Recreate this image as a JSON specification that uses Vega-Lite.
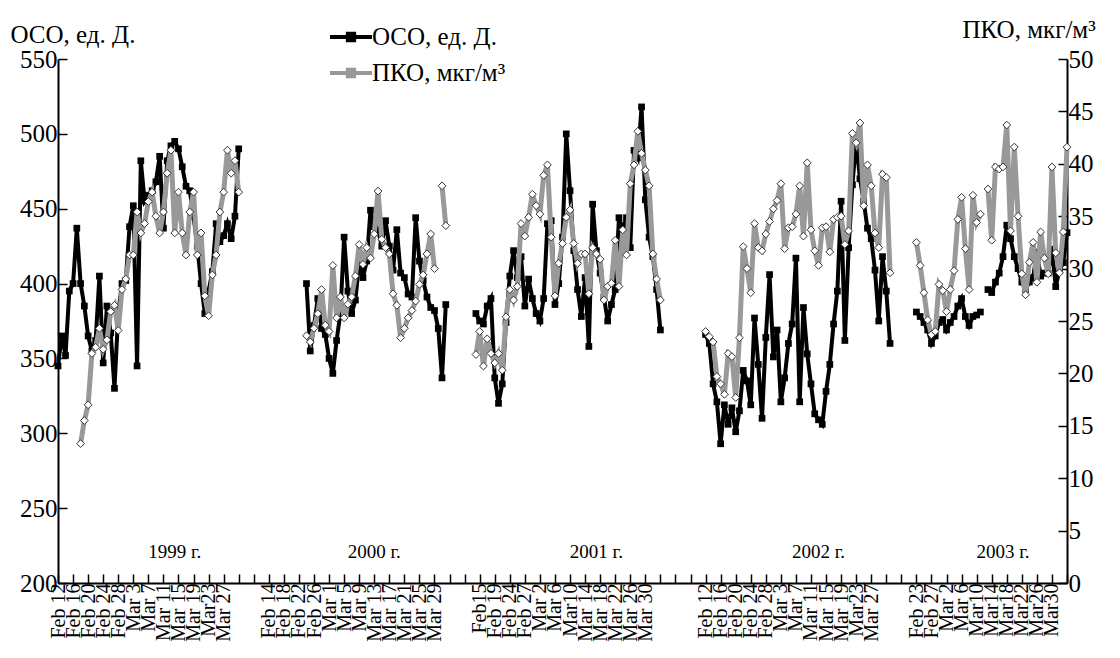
{
"$schema": "https://vega.github.io/schema/vega-lite/v6.json",
"width": 1009, "height": 524,
"autosize": {"type": "none"},
"padding": {"left": 58, "top": 59, "right": 53, "bottom": 75},
"background": "white",
"config": {
 "view": {"stroke": null},
 "font": "Liberation Serif",
 "axis": {"grid": false, "domainColor": "black", "domainWidth": 2, "tickColor": "black", "tickWidth": 1.5, "labelColor": "black", "titleColor": "black", "labelFont": "Liberation Serif", "titleFont": "Liberation Serif", "titleFontWeight": "normal"},
 "legend": {"orient": "none", "legendX": 270, "legendY": -45, "labelFont": "Liberation Serif", "labelFontSize": 25, "labelColor": "black", "symbolType": "M-1,0H1M-0.15,-0.15H0.15V0.15H-0.15Z", "symbolSize": 1764, "symbolStrokeWidth": 4, "rowPadding": -25, "labelOffset": -2, "title": null}
},
"data": {"values": [
{"yr":1999,"i":0,"o":345,"p":null},{"yr":1999,"i":1,"o":365,"p":null},{"yr":1999,"i":2,"o":352,"p":null},{"yr":1999,"i":3,"o":395,"p":null},{"yr":1999,"i":4,"o":400,"p":null},{"yr":1999,"i":5,"o":437,"p":null},{"yr":1999,"i":6,"o":400,"p":13.3},{"yr":1999,"i":7,"o":385,"p":15.5},{"yr":1999,"i":8,"o":365,"p":17.0},{"yr":1999,"i":9,"o":355,"p":21.9},{"yr":1999,"i":10,"o":362,"p":22.5},{"yr":1999,"i":11,"o":405,"p":24.3},{"yr":1999,"i":12,"o":347,"p":22.3},{"yr":1999,"i":13,"o":385,"p":23.2},{"yr":1999,"i":14,"o":367,"p":25.9},{"yr":1999,"i":15,"o":330,"p":26.5},{"yr":1999,"i":16,"o":380,"p":24.1},{"yr":1999,"i":17,"o":400,"p":28.0},{"yr":1999,"i":18,"o":402,"p":29.0},{"yr":1999,"i":19,"o":438,"p":31.3},{"yr":1999,"i":20,"o":452,"p":31.3},{"yr":1999,"i":21,"o":345,"p":35.4},{"yr":1999,"i":22,"o":482,"p":33.4},{"yr":1999,"i":23,"o":455,"p":34.3},{"yr":1999,"i":24,"o":459,"p":36.4},{"yr":1999,"i":25,"o":462,"p":37.3},{"yr":1999,"i":26,"o":468,"p":35.0},{"yr":1999,"i":27,"o":485,"p":33.4},{"yr":1999,"i":28,"o":437,"p":35.4},{"yr":1999,"i":29,"o":482,"p":39.1},{"yr":1999,"i":30,"o":492,"p":41.3},{"yr":1999,"i":31,"o":495,"p":33.4},{"yr":1999,"i":32,"o":490,"p":37.3},{"yr":1999,"i":33,"o":478,"p":33.4},{"yr":1999,"i":34,"o":465,"p":31.3},{"yr":1999,"i":35,"o":462,"p":35.4},{"yr":1999,"i":36,"o":445,"p":37.3},{"yr":1999,"i":37,"o":425,"p":31.3},{"yr":1999,"i":38,"o":400,"p":33.4},{"yr":1999,"i":39,"o":380,"p":27.4},{"yr":1999,"i":40,"o":395,"p":25.5},{"yr":1999,"i":41,"o":408,"p":29.4},{"yr":1999,"i":42,"o":440,"p":31.3},{"yr":1999,"i":43,"o":428,"p":35.4},{"yr":1999,"i":44,"o":432,"p":37.3},{"yr":1999,"i":45,"o":440,"p":41.3},{"yr":1999,"i":46,"o":430,"p":39.1},{"yr":1999,"i":47,"o":445,"p":40.3},{"yr":1999,"i":48,"o":490,"p":37.3},
{"yr":2000,"i":66,"o":400,"p":23.6},{"yr":2000,"i":67,"o":355,"p":23.0},{"yr":2000,"i":68,"o":372,"p":24.3},{"yr":2000,"i":69,"o":390,"p":25.7},{"yr":2000,"i":70,"o":370,"p":28.0},{"yr":2000,"i":71,"o":366,"p":24.6},{"yr":2000,"i":72,"o":350,"p":24.0},{"yr":2000,"i":73,"o":340,"p":30.3},{"yr":2000,"i":74,"o":362,"p":25.3},{"yr":2000,"i":75,"o":380,"p":27.3},{"yr":2000,"i":76,"o":431,"p":25.3},{"yr":2000,"i":77,"o":395,"p":26.6},{"yr":2000,"i":78,"o":380,"p":27.3},{"yr":2000,"i":79,"o":389,"p":29.3},{"yr":2000,"i":80,"o":415,"p":32.3},{"yr":2000,"i":81,"o":404,"p":30.4},{"yr":2000,"i":82,"o":415,"p":32.0},{"yr":2000,"i":83,"o":449,"p":31.0},{"yr":2000,"i":84,"o":438,"p":33.3},{"yr":2000,"i":85,"o":436,"p":37.4},{"yr":2000,"i":86,"o":425,"p":32.8},{"yr":2000,"i":87,"o":442,"p":32.0},{"yr":2000,"i":88,"o":425,"p":31.4},{"yr":2000,"i":89,"o":409,"p":27.6},{"yr":2000,"i":90,"o":436,"p":26.5},{"yr":2000,"i":91,"o":407,"p":23.4},{"yr":2000,"i":92,"o":404,"p":24.3},{"yr":2000,"i":93,"o":393,"p":25.3},{"yr":2000,"i":94,"o":391,"p":26.0},{"yr":2000,"i":95,"o":444,"p":26.9},{"yr":2000,"i":96,"o":415,"p":28.5},{"yr":2000,"i":97,"o":402,"p":29.4},{"yr":2000,"i":98,"o":391,"p":31.4},{"yr":2000,"i":99,"o":384,"p":33.3},{"yr":2000,"i":100,"o":382,"p":30.0},{"yr":2000,"i":101,"o":370,"p":null},{"yr":2000,"i":102,"o":337,"p":37.9},{"yr":2000,"i":103,"o":386,"p":34.1},
{"yr":2001,"i":111,"o":380,"p":21.8},{"yr":2001,"i":112,"o":375,"p":24.0},{"yr":2001,"i":113,"o":373,"p":20.7},{"yr":2001,"i":114,"o":385,"p":23.3},{"yr":2001,"i":115,"o":390,"p":21.9},{"yr":2001,"i":116,"o":337,"p":21.0},{"yr":2001,"i":117,"o":320,"p":21.9},{"yr":2001,"i":118,"o":333,"p":20.3},{"yr":2001,"i":119,"o":374,"p":25.4},{"yr":2001,"i":120,"o":405,"p":28.0},{"yr":2001,"i":121,"o":422,"p":27.0},{"yr":2001,"i":122,"o":404,"p":28.3},{"yr":2001,"i":123,"o":418,"p":34.3},{"yr":2001,"i":124,"o":385,"p":33.1},{"yr":2001,"i":125,"o":403,"p":34.9},{"yr":2001,"i":126,"o":390,"p":37.1},{"yr":2001,"i":127,"o":380,"p":36.0},{"yr":2001,"i":128,"o":375,"p":35.2},{"yr":2001,"i":129,"o":390,"p":38.9},{"yr":2001,"i":130,"o":440,"p":39.9},{"yr":2001,"i":131,"o":442,"p":33.0},{"yr":2001,"i":132,"o":386,"p":27.4},{"yr":2001,"i":133,"o":400,"p":30.5},{"yr":2001,"i":134,"o":431,"p":32.4},{"yr":2001,"i":135,"o":500,"p":34.9},{"yr":2001,"i":136,"o":462,"p":35.6},{"yr":2001,"i":137,"o":422,"p":32.4},{"yr":2001,"i":138,"o":396,"p":30.5},{"yr":2001,"i":139,"o":378,"p":31.4},{"yr":2001,"i":140,"o":404,"p":31.4},{"yr":2001,"i":141,"o":358,"p":27.6},{"yr":2001,"i":142,"o":453,"p":32.0},{"yr":2001,"i":143,"o":422,"p":31.4},{"yr":2001,"i":144,"o":407,"p":30.9},{"yr":2001,"i":145,"o":391,"p":27.0},{"yr":2001,"i":146,"o":375,"p":28.3},{"yr":2001,"i":147,"o":386,"p":28.6},{"yr":2001,"i":148,"o":396,"p":32.7},{"yr":2001,"i":149,"o":444,"p":28.3},{"yr":2001,"i":150,"o":436,"p":33.7},{"yr":2001,"i":151,"o":444,"p":31.3},{"yr":2001,"i":152,"o":424,"p":38.1},{"yr":2001,"i":153,"o":489,"p":39.9},{"yr":2001,"i":154,"o":484,"p":43.1},{"yr":2001,"i":155,"o":518,"p":41.0},{"yr":2001,"i":156,"o":456,"p":39.4},{"yr":2001,"i":157,"o":431,"p":37.9},{"yr":2001,"i":158,"o":418,"p":31.4},{"yr":2001,"i":159,"o":396,"p":29.0},{"yr":2001,"i":160,"o":369,"p":27.0},
{"yr":2002,"i":172,"o":366,"p":24.0},{"yr":2002,"i":173,"o":360,"p":23.5},{"yr":2002,"i":174,"o":333,"p":23.0},{"yr":2002,"i":175,"o":321,"p":19.7},{"yr":2002,"i":176,"o":293,"p":19.0},{"yr":2002,"i":177,"o":319,"p":18.0},{"yr":2002,"i":178,"o":306,"p":21.9},{"yr":2002,"i":179,"o":317,"p":21.6},{"yr":2002,"i":180,"o":301,"p":17.7},{"yr":2002,"i":181,"o":315,"p":23.4},{"yr":2002,"i":182,"o":342,"p":32.1},{"yr":2002,"i":183,"o":335,"p":30.0},{"yr":2002,"i":184,"o":319,"p":27.7},{"yr":2002,"i":185,"o":377,"p":34.3},{"yr":2002,"i":186,"o":346,"p":32.0},{"yr":2002,"i":187,"o":310,"p":31.7},{"yr":2002,"i":188,"o":364,"p":33.3},{"yr":2002,"i":189,"o":406,"p":34.5},{"yr":2002,"i":190,"o":351,"p":35.7},{"yr":2002,"i":191,"o":369,"p":36.5},{"yr":2002,"i":192,"o":321,"p":38.1},{"yr":2002,"i":193,"o":337,"p":31.9},{"yr":2002,"i":194,"o":360,"p":33.9},{"yr":2002,"i":195,"o":373,"p":34.0},{"yr":2002,"i":196,"o":417,"p":35.2},{"yr":2002,"i":197,"o":321,"p":37.9},{"yr":2002,"i":198,"o":384,"p":33.1},{"yr":2002,"i":199,"o":353,"p":40.1},{"yr":2002,"i":200,"o":333,"p":33.7},{"yr":2002,"i":201,"o":313,"p":31.7},{"yr":2002,"i":202,"o":309,"p":30.3},{"yr":2002,"i":203,"o":306,"p":33.9},{"yr":2002,"i":204,"o":328,"p":34.0},{"yr":2002,"i":205,"o":346,"p":31.6},{"yr":2002,"i":206,"o":373,"p":34.7},{"yr":2002,"i":207,"o":395,"p":34.9},{"yr":2002,"i":208,"o":455,"p":35.0},{"yr":2002,"i":209,"o":362,"p":32.3},{"yr":2002,"i":210,"o":424,"p":33.6},{"yr":2002,"i":211,"o":466,"p":42.9},{"yr":2002,"i":212,"o":495,"p":42.0},{"yr":2002,"i":213,"o":470,"p":43.9},{"yr":2002,"i":214,"o":455,"p":36.0},{"yr":2002,"i":215,"o":437,"p":39.9},{"yr":2002,"i":216,"o":430,"p":37.9},{"yr":2002,"i":217,"o":409,"p":33.4},{"yr":2002,"i":218,"o":375,"p":32.0},{"yr":2002,"i":219,"o":418,"p":39.0},{"yr":2002,"i":220,"o":395,"p":38.7},{"yr":2002,"i":221,"o":360,"p":29.6},
{"yr":2003,"i":228,"o":381,"p":32.5},{"yr":2003,"i":229,"o":378,"p":30.3},{"yr":2003,"i":230,"o":374,"p":27.7},{"yr":2003,"i":231,"o":369,"p":25.1},{"yr":2003,"i":232,"o":360,"p":23.7},{"yr":2003,"i":233,"o":365,"p":24.0},{"yr":2003,"i":234,"o":374,"p":28.5},{"yr":2003,"i":235,"o":376,"p":27.9},{"yr":2003,"i":236,"o":369,"p":25.9},{"yr":2003,"i":237,"o":374,"p":28.0},{"yr":2003,"i":238,"o":378,"p":29.8},{"yr":2003,"i":239,"o":385,"p":34.7},{"yr":2003,"i":240,"o":390,"p":36.8},{"yr":2003,"i":241,"o":378,"p":31.9},{"yr":2003,"i":242,"o":372,"p":28.0},{"yr":2003,"i":243,"o":378,"p":37.0},{"yr":2003,"i":244,"o":379,"p":34.4},{"yr":2003,"i":245,"o":381,"p":35.2},{"yr":2003,"i":246,"o":null,"p":null},{"yr":2003,"i":247,"o":396,"p":37.6},{"yr":2003,"i":248,"o":394,"p":32.7},{"yr":2003,"i":249,"o":401,"p":39.7},{"yr":2003,"i":250,"o":407,"p":39.5},{"yr":2003,"i":251,"o":418,"p":39.7},{"yr":2003,"i":252,"o":439,"p":43.7},{"yr":2003,"i":253,"o":430,"p":33.6},{"yr":2003,"i":254,"o":418,"p":41.6},{"yr":2003,"i":255,"o":410,"p":35.0},{"yr":2003,"i":256,"o":401,"p":29.5},{"yr":2003,"i":257,"o":396,"p":27.5},{"yr":2003,"i":258,"o":401,"p":30.6},{"yr":2003,"i":259,"o":404,"p":32.5},{"yr":2003,"i":260,"o":421,"p":28.7},{"yr":2003,"i":261,"o":405,"p":33.5},{"yr":2003,"i":262,"o":407,"p":31.0},{"yr":2003,"i":263,"o":407,"p":29.5},{"yr":2003,"i":264,"o":423,"p":39.7},{"yr":2003,"i":265,"o":398,"p":31.5},{"yr":2003,"i":266,"o":409,"p":29.6},{"yr":2003,"i":267,"o":414,"p":33.5},{"yr":2003,"i":268,"o":434,"p":41.6}
]},
"encoding": {
 "x": {"field": "i", "type": "quantitative",
  "scale": {"domain": [0, 268], "nice": false, "zero": false},
  "axis": {"values": [0,4,8,12,16,20,24,28,32,36,40,44,48,52,56,60,64,68,72,76,80,84,88,92,96,100,104,108,112,116,120,124,128,132,136,140,144,148,152,156,160,164,168,172,176,180,184,188,192,196,200,204,208,212,216,220,224,228,232,236,240,244,248,252,256,260,264,268],
   "labelExpr": "['Feb 12','Feb 16','Feb 20','Feb 24','Feb 28','Mar 3','Mar 7','Mar 11','Mar 15','Mar 19','Mar23','Mar 27','','','Feb 14','Feb 18','Feb 22','Feb 26','Mar 1','Mar 5','Mar 9','Mar 13','Mar 17','Mar 21','Mar 25','Mar 29','','','Feb15','Feb 19','Feb 24','Feb 27','Mar 2','Mar 6','Mar10','Mar 14','Mar 18','Mar 22','Mar 26','Mar 30','','','','Feb 12','Feb 16','Feb 20','Feb 24','Feb 28','Mar 3','Mar 7','Mar 11','Mar 15','Mar 19','Mar23','Mar 27','','','Feb 23','Feb 27','Mar 2','Mar 6','Mar10','Mar14','Mar18','Mar22','Mar26','Mar30',''][round(datum.value/4)]",
   "labelAngle": -90, "labelAlign": "right", "labelBaseline": "middle", "labelFontSize": 20, "labelPadding": 9, "tickSize": -9, "labelOverlap": false, "labelFlush": false, "labelBound": false, "labelLimit": 0, "title": null}}
},
"layer": [
 {"encoding": {"y": {"field": "o", "type": "quantitative",
   "scale": {"domain": [200, 550], "nice": false, "zero": false},
   "axis": {"orient": "left", "values": [200,250,300,350,400,450,500,550], "tickSize": -9, "labelFontSize": 25, "labelPadding": 10, "title": "ОСО, ед. Д.", "titleFontSize": 25, "titleAngle": 0, "titleAlign": "left", "titleBaseline": "middle", "titleX": -48, "titleY": -25}}},
  "layer": [
   {"mark": {"type": "line", "strokeWidth": 4}, "encoding": {"detail": {"field": "yr"}, "color": {"datum": "ОСО, ед. Д.", "scale": {"domain": ["ОСО, ед. Д.", "ПКО, мкг/м³"], "range": ["black", "#999999"]}}}},
   {"mark": {"type": "point", "shape": "square", "filled": true, "color": "black", "size": 45, "opacity": 1}},
   {"data": {"values": [{"i": 31, "v": 221, "t": "1999 г."}, {"i": 84, "v": 221, "t": "2000 г."}, {"i": 143, "v": 221, "t": "2001 г."}, {"i": 202, "v": 221, "t": "2002 г."}, {"i": 251, "v": 221, "t": "2003 г."}]},
    "mark": {"type": "text", "fontSize": 19, "font": "Liberation Serif", "color": "black", "baseline": "middle", "align": "center"},
    "encoding": {"x": {"field": "i", "type": "quantitative"}, "y": {"field": "v", "type": "quantitative"}, "text": {"field": "t", "type": "nominal"}}}
  ]},
 {"encoding": {"y": {"field": "p", "type": "quantitative",
   "scale": {"domain": [0, 50], "nice": false, "zero": false},
   "axis": {"orient": "right", "values": [0,5,10,15,20,25,30,35,40,45,50], "tickSize": -9, "labelFontSize": 25, "labelPadding": 10, "title": "ПКО, мкг/м³", "titleFontSize": 25, "titleAngle": 0, "titleAlign": "left", "titleBaseline": "middle", "titleX": -105, "titleY": -30}}},
  "layer": [
   {"mark": {"type": "line", "strokeWidth": 5}, "encoding": {"detail": {"field": "yr"}, "color": {"datum": "ПКО, мкг/м³"}}},
   {"mark": {"type": "point", "shape": "diamond", "filled": true, "fill": "white", "stroke": "#333333", "strokeWidth": 1, "size": 60, "opacity": 1}}
  ]}
],
"resolve": {"scale": {"y": "independent"}}
}
